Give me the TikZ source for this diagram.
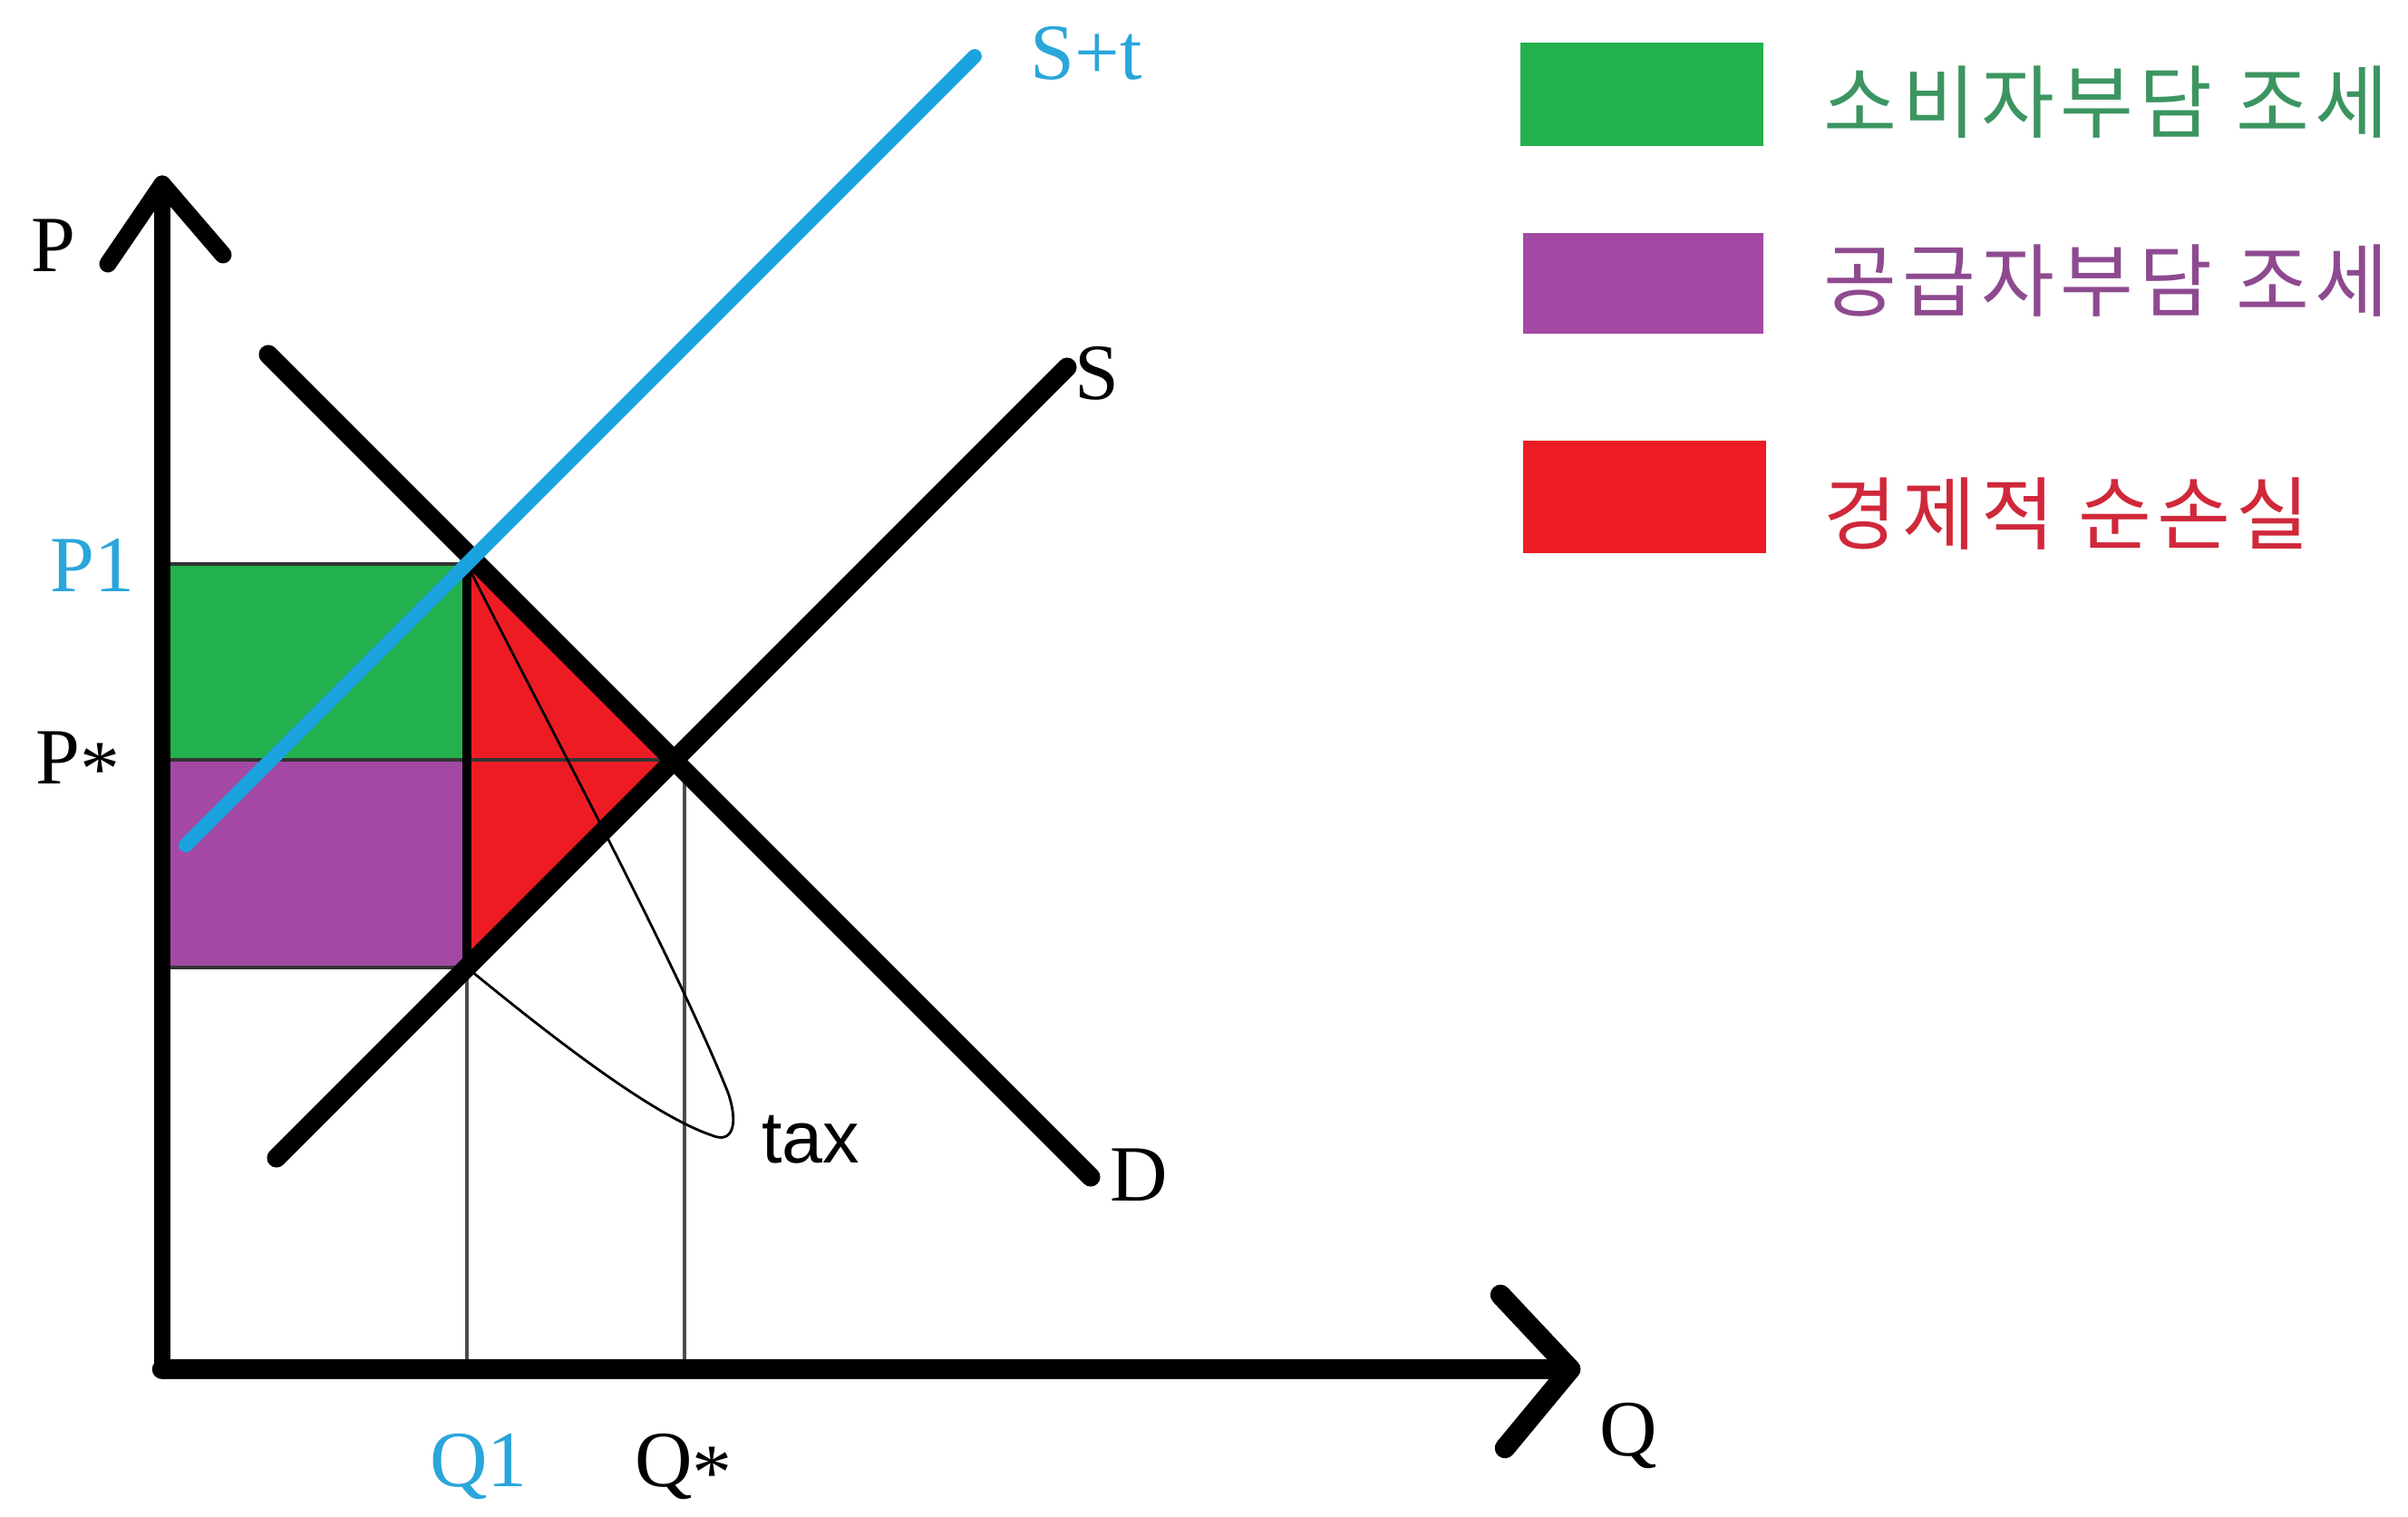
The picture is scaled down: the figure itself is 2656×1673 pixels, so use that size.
\documentclass[tikz,border=0pt]{standalone}
\usepackage{fontspec}
\setmainfont{Liberation Serif}
\newfontfamily\krfont[LetterSpace=7]{Noto Sans CJK KR}
\newfontfamily\taxfont{Liberation Sans}
\definecolor{pgreen}{HTML}{22B14C}
\definecolor{ppurple}{HTML}{A349A4}
\definecolor{pred}{HTML}{ED1C24}
\definecolor{pblue}{HTML}{1BA3E0}
\definecolor{tgreen}{HTML}{3C9560}
\definecolor{tpurple}{HTML}{8E4A90}
\definecolor{tred}{HTML}{D0283A}
\definecolor{lblue}{HTML}{2AA6DA}
\tikzset{
  yaxisline/.style={line width=5.4pt, line cap=round, line join=round, black},
  xaxisline/.style={line width=6.4pt, line cap=round, line join=round, black},
  curveline/.style={line width=6pt, line cap=round, black},
  taxline/.style={line width=4.5pt, line cap=round, pblue},
  guide/.style={line width=0.9pt, black!70},
  edgeline/.style={line width=0.9pt, black!80},
  loopline/.style={line width=0.8pt, black},
  axlabel/.style={font=\fontsize{25}{29}\selectfont, inner sep=0pt},
  legtext/.style={font=\krfont\fontsize{25}{29}\selectfont, anchor=west, inner sep=0pt},
}
\begin{document}
\begin{tikzpicture}[x=0.01cm, y=-0.01cm]
\useasboundingbox (0,0) rectangle (2656,1673);
\fill[white] (0,0) rectangle (2656,1673);
% key points
\coordinate (O) at (179,1510);
\coordinate (Ytop) at (179,203);
\coordinate (Xend) at (1732,1510);
\coordinate (A) at (515,622);
\coordinate (E) at (743,838);
\coordinate (B) at (515,1067);
\coordinate (P1y) at (179,622);
\coordinate (Psy) at (179,838);
\coordinate (Ply) at (179,1067);
\coordinate (Q1x) at (515,1510);
\coordinate (Qst) at (755,838);
\coordinate (Qsx) at (755,1510);
\coordinate (Dst) at (296,391);
\coordinate (Den) at (1203,1298);
\coordinate (Sst) at (305,1277);
\coordinate (Sen) at (1177,405);
\coordinate (Tst) at (205,932);
\coordinate (Ten) at (1075,62);
\coordinate (YwL) at (119,291);
\coordinate (YwR) at (246,281);
\coordinate (XwU) at (1655,1428);
\coordinate (XwD) at (1660,1597);
\coordinate (Tip) at (803,1205);
% areas
\fill[pgreen] (P1y) rectangle (E -| A);
\fill[ppurple] (Psy) rectangle (B);
\fill[pred] (A) -- (E) -- (B) -- cycle;
% guide lines
\draw[edgeline] (P1y) -- (A);
\draw[edgeline] (Psy) -- (E);
\draw[edgeline] (Ply) -- (B);
\draw[guide] (B) -- (Q1x);
\draw[guide] (Qst) -- (Qsx);
\draw[line width=3pt, black] (A) -- (B);
% tax loop
\draw[loopline] (A) .. controls (600,790) and (745,1060) .. (Tip)
  .. controls (815,1240) and (808,1262) .. (785,1252)
  .. controls (720,1230) and (610,1145) .. (B);
% curves
\draw[curveline] (Dst) -- (Den);
\draw[curveline] (Sst) -- (Sen);
\draw[taxline] (Tst) -- (Ten);
% axes
\draw[yaxisline] (Ytop) -- (O);
\draw[xaxisline] (O) -- (Xend);
\draw[yaxisline] (YwL) -- (Ytop) -- (YwR);
\draw[xaxisline] (XwU) -- (Xend) -- (XwD);
% labels
\node[axlabel] (lP) at (59,271) {P};
\node[axlabel, text=lblue] (lP1) at (102,623) {P1};
\node[axlabel] (lPs) at (86,842) {P\raisebox{-0.15em}{*}};
\node[axlabel, text=lblue] (lQ1) at (528,1618) {Q1};
\node[axlabel] (lQs) at (754,1618) {Q\raisebox{-0.15em}{*}};
\node[axlabel] (lQ) at (1796,1584) {Q};
\node[axlabel, text=lblue] (lSt) at (1198,59) {S+t};
\node[axlabel] (lS) at (1210,412) {S};
\node[axlabel] (lD) at (1256,1296) {D};
\node[font=\taxfont\fontsize{23}{28}\selectfont, inner sep=0pt] (ltax) at (894,1257) {tax};
% legend
\fill[pgreen] (1677,47) rectangle (1945,161);
\fill[ppurple] (1680,257) rectangle (1945,368);
\fill[pred] (1680,486) rectangle (1948,610);
\node[legtext, text=tgreen] (lg1) at (2011,113) {소비자부담 조세};
\node[legtext, text=tpurple] (lg2) at (2011,310) {공급자부담 조세};
\node[legtext, text=tred] (lg3) at (2011,567) {경제적 순손실};
\end{tikzpicture}
\end{document}
